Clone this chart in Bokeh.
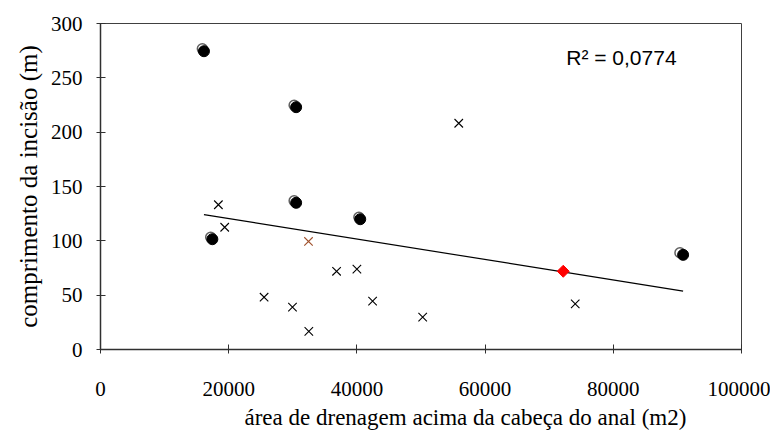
from bokeh.plotting import figure
from bokeh.models import FixedTicker, NumeralTickFormatter, Range1d, Label, Title
from bokeh.embed import file_html
from bokeh.resources import INLINE

# ---- data ----
x_ticks = [0, 20000, 40000, 60000, 80000, 100000]
y_ticks = [0, 50, 100, 150, 200, 250, 300]

# hollow grey circle series
hollow_x = [15890, 30210, 30210, 40310, 17190, 90400]
hollow_y = [276.7, 224.8, 136.8, 121.7, 103.3, 89.0]

# filled black circle series
filled_x = [16140, 30520, 30520, 40520, 17450, 90890]
filled_y = [274.5, 223.0, 135.0, 119.9, 101.5, 87.1]

# black crosses
cross_x = [18390, 19375, 36830, 40000, 25520, 29950, 32500, 42450, 50260, 55890, 74060]
cross_y = [133.2, 112.5, 72.0, 73.9, 48.1, 38.9, 16.6, 44.5, 29.7, 208.2, 42.0]

# brown cross
brown_x = [32450]
brown_y = [99.4]

# red diamond
red_x = [72190]
red_y = [72.0]

# linear trend line (end points)
trend_x = [16140, 90890]
trend_y = [124.2, 53.7]

r2_text = "R\u00b2 = 0,0774"
r2_x, r2_y = 72660, 269.0

x_title = "área de drenagem acima da cabeça do anal (m2)"
y_title = "comprimento da incisão (m)"

SERIF = "Liberation Serif"

p = figure(width=770, height=433, output_backend="svg", toolbar_location=None,
           x_range=Range1d(0, 100000), y_range=Range1d(0, 300),
           min_border_left=100, min_border_right=29, min_border_top=23, min_border_bottom=0)
p.background_fill_color = "white"
p.border_fill_color = "white"
p.outline_line_color = "#404040"
p.outline_line_width = 1
p.xgrid.visible = False
p.ygrid.visible = False

for ax in (p.xaxis[0], p.yaxis[0]):
    ax.axis_line_color = "#303030"
    ax.axis_line_width = 1.5
    ax.major_tick_line_color = "#303030"
    ax.major_tick_in = 5
    ax.major_tick_out = 4
    ax.minor_tick_line_color = None
    ax.major_label_text_font = SERIF
    ax.major_label_text_font_size = "21px"
    ax.major_label_text_color = "black"
    ax.axis_label_text_font = SERIF
    ax.axis_label_text_font_style = "normal"
    ax.axis_label_text_color = "black"

p.xaxis.ticker = FixedTicker(ticks=x_ticks)
p.yaxis.ticker = FixedTicker(ticks=y_ticks)
p.xaxis.formatter = NumeralTickFormatter(format="0")
p.yaxis.formatter = NumeralTickFormatter(format="0")
p.xaxis.major_label_standoff = 28
p.yaxis.major_label_standoff = 14
p.yaxis.axis_label = y_title
p.yaxis.axis_label_text_font_size = "25px"
p.yaxis.axis_label_standoff = 6

p.add_layout(Title(text=x_title, align="left", offset=144, standoff=8,
                   text_font=SERIF, text_font_size="23px", text_font_style="normal",
                   text_color="black"), "below")

p.line(trend_x, trend_y, line_color="black", line_width=1.2)

p.scatter(cross_x, cross_y, marker="x", size=12, line_color="black", line_width=1.1)
p.scatter(brown_x, brown_y, marker="x", size=12, line_color="#A0522D", line_width=1.1)
p.scatter(hollow_x, hollow_y, marker="circle", size=10, fill_color="white",
          line_color="#606060", line_width=1.5)
p.scatter(filled_x, filled_y, marker="circle", size=11, fill_color="black", line_color="black")
p.scatter(red_x, red_y, marker="square", angle=0.785398, size=8.5,
          fill_color="red", line_color="red")

p.add_layout(Label(x=r2_x, y=r2_y, text=r2_text, text_font="Liberation Sans",
                   text_font_size="21px", text_color="black", text_baseline="alphabetic"))

open("out.html", "w").write(file_html(p, INLINE))
